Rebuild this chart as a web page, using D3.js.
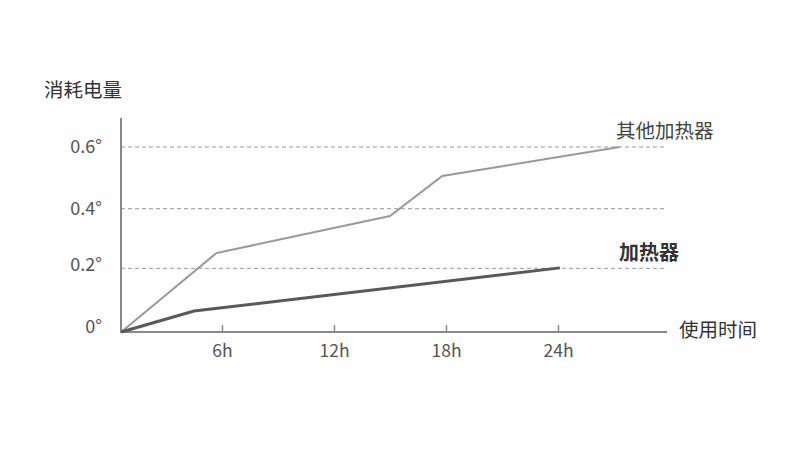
<!DOCTYPE html>
<html><head><meta charset="utf-8">
<script src="https://cdn.jsdelivr.net/npm/d3@7"></script>
<style>body{margin:0;background:#fff}svg{display:block}text{font-family:"Noto Sans CJK SC","Noto Sans",sans-serif}</style>
</head><body>
<script>
const xTicks = [6, 12, 18, 24];
const xTickLabels = ["6h", "12h", "18h", "24h"];
const yTicks = [0, 0.2, 0.4, 0.6];
const yTickLabels = ["0°", "0.2°", "0.4°", "0.6°"];
const otherHours = [0.6, 5.7, 15.0, 17.8, 27.3];
const otherValues = [0, 0.256, 0.376, 0.506, 0.6];
const mainHours = [0.6, 4.5, 24.1];
const mainValues = [0, 0.068, 0.208];
const seriesNames = ["其他加热器", "加热器"];
const yTitle = "消耗电量";
const xTitle = "使用时间";

const W = 790, H = 460;
const svg = d3.select("body").append("svg").attr("width", W).attr("height", H);
svg.append("rect").attr("width", W).attr("height", H).attr("fill", "#fefefe");

const x = d3.scaleLinear().domain([0, 30]).range([110, 670]);
const y = d3.scaleLinear().domain([0, 0.6]).range([332, 147]);
const x0 = 121, xEnd = 667;

// gridlines
svg.append("g").selectAll("line").data(yTicks.filter(d => d > 0)).join("line")
  .attr("x1", x0).attr("x2", 666).attr("y1", d => y(d) - (d === 0.2 ? 2 : 0)).attr("y2", d => y(d) - (d === 0.2 ? 2 : 0))
  .attr("stroke", "#999").attr("stroke-width", 1).attr("stroke-dasharray", "4,3");

// y axis labels
svg.append("g").selectAll("text").data(yTicks).join("text")
  .attr("x", 102).attr("y", (d, i) => y(d) + (i === 0 ? 1 : i === 1 ? 1 : 6))
  .attr("text-anchor", "end").attr("font-size", 18).attr("fill", "#555")
  .text((d, i) => yTickLabels[i]);

// axes lines
svg.append("line").attr("x1", x0).attr("x2", x0).attr("y1", 118).attr("y2", 333)
  .attr("stroke", "#888").attr("stroke-width", 2);
svg.append("line").attr("x1", x0).attr("x2", xEnd).attr("y1", 332).attr("y2", 332)
  .attr("stroke", "#888").attr("stroke-width", 2);

// x ticks
const xg = svg.append("g").attr("transform", "translate(0,332)")
  .call(d3.axisBottom(x).tickValues(xTicks).tickSize(-7).tickFormat((d, i) => xTickLabels[i]));
xg.select(".domain").remove();
xg.selectAll(".tick line").attr("stroke", "#888").attr("stroke-width", 1.5);
xg.selectAll(".tick text").attr("font-size", 17.5).attr("fill", "#555").attr("dy", "1.1em")
  .attr("y", 6).style("font-family", '"Noto Sans CJK SC","Noto Sans",sans-serif');

const line = d3.line().x(d => x(d[0])).y(d => y(d[1]));
svg.append("path").datum(otherHours.map((h, i) => [h, otherValues[i]]))
  .attr("d", line).attr("fill", "none").attr("stroke", "#999").attr("stroke-width", 2);
svg.append("path").datum(mainHours.map((h, i) => [h, mainValues[i]]))
  .attr("d", line).attr("fill", "none").attr("stroke", "#595959").attr("stroke-width", 3);

// labels
svg.append("text").attr("x", 616).attr("y", 138).attr("font-size", 19.5).attr("fill", "#444").text(seriesNames[0]);
svg.append("text").attr("x", 619).attr("y", 260).attr("font-size", 20).attr("font-weight", "bold").attr("fill", "#333").text(seriesNames[1]);
svg.append("text").attr("x", 44).attr("y", 97).attr("font-size", 19.5).attr("fill", "#333").text(yTitle);
svg.append("text").attr("x", 679).attr("y", 337).attr("font-size", 19.5).attr("fill", "#333").text(xTitle);
</script>
</body></html>
